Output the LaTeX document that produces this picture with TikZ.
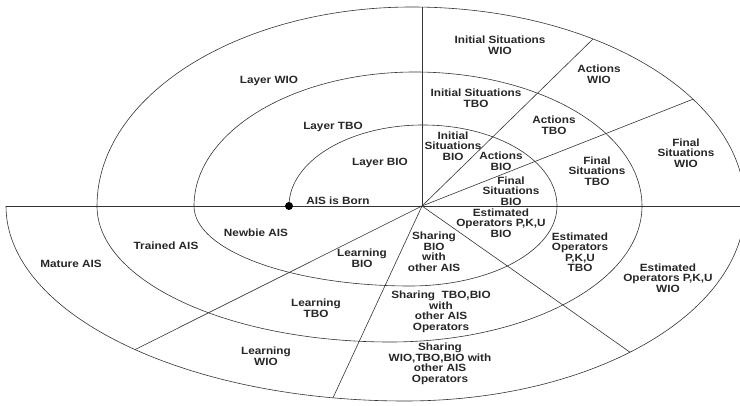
\documentclass[tikz,border=0pt]{standalone}
\usepackage{fontspec}
\newfontfamily\lblfont[FakeStretch=1.12]{Liberation Sans}
\begin{document}
\begin{tikzpicture}[x=1pt,y=1pt,
  ln/.style={line width=0.6pt, draw=black!80},
  lbl/.style={font=\lblfont\bfseries\fontsize{10.5}{10.5}\selectfont, align=center, inner sep=0pt, text=black!85}]
\useasboundingbox (0,0) rectangle (740,405);
\clip (0,0) rectangle (740,405);
% named points
\coordinate (C) at (422,199);
\coordinate (hl) at (6,199);
\coordinate (hr) at (745,199);
\coordinate (e1) at (422,398);
\coordinate (e2) at (593,366);
\coordinate (e3) at (693,305.8);
\coordinate (e4) at (630,52.8);
\coordinate (e5) at (333,7.2);
\coordinate (e6) at (135,55.4);
\coordinate (born) at (289,199);
% spiral
\draw[ln] (born) arc[start angle=180,end angle=0,x radius=134,y radius=81]
  arc[start angle=0,end angle=-90,x radius=147,y radius=80]
  arc[start angle=-90,end angle=-180,x radius=216,y radius=80]
  arc[start angle=180,end angle=90,x radius=221,y radius=134]
  arc[start angle=90,end angle=0,x radius=227,y radius=134]
  arc[start angle=0,end angle=-90,x radius=252,y radius=136]
  arc[start angle=-90,end angle=-180,x radius=293,y radius=136]
  arc[start angle=180,end angle=90,x radius=315,y radius=199]
  arc[start angle=90,end angle=0,x radius=333,y radius=199]
  arc[start angle=0,end angle=-90,x radius=340,y radius=195]
  arc[start angle=-90,end angle=-180,x radius=399,y radius=195];
% straight lines
\draw[ln] (hl) -- (hr);
\draw[ln] (C) -- (e1);
\draw[ln] (C) -- (e2);
\draw[ln] (C) -- (e3);
\draw[ln] (C) -- (e4);
\draw[ln] (C) -- (e5);
\draw[ln] (C) -- (e6);
\fill[black] (born) circle (4);
% labels
\node[lbl] (lw) at (269,324) {Layer WIO};
\node[lbl] (lt) at (333,278) {Layer TBO};
\node[lbl] (lb) at (380,242) {Layer BIO};
\node[lbl] (ab) at (338,204) {AIS is Born};
\node[lbl] (isw) at (500,360) {Initial Situations\\WIO};
\node[lbl] (acw) at (599,331) {Actions\\WIO};
\node[lbl] (ist) at (476,307) {Initial Situations\\TBO};
\node[lbl] (act) at (554,280) {Actions\\TBO};
\node[lbl] (isb) at (453,259) {Initial\\Situations\\BIO};
\node[lbl] (acb) at (501,244) {Actions\\BIO};
\node[lbl] (fsb) at (511,214) {Final\\Situations\\BIO};
\node[lbl] (fst) at (597,234) {Final\\Situations\\TBO};
\node[lbl] (fsw) at (686,252) {Final\\Situations\\WIO};
\node[lbl] (eob) at (501,182) {Estimated\\Operators P,K,U\\BIO};
\node[lbl] (eot) at (580,153) {Estimated\\Operators\\P,K,U\\TBO};
\node[lbl] (eow) at (668,127) {Estimated\\Operators P,K,U\\WIO};
\node[lbl] (shb) at (434,153.5) {Sharing\\BIO\\with\\other AIS};
\node[lbl] (sht) at (441,93) {Sharing~ TBO,BIO\\with\\other AIS\\Operators};
\node[lbl] (shw) at (440,41) {Sharing\\WIO,TBO,BIO with\\other AIS\\Operators};
\node[lbl] (leb) at (362,147) {Learning\\BIO};
\node[lbl] (let) at (316,97) {Learning\\TBO};
\node[lbl] (lew) at (266,49) {Learning\\WIO};
\node[lbl] (nb) at (256,172) {Newbie AIS};
\node[lbl] (tr) at (166,159) {Trained AIS};
\node[lbl] (ma) at (71,141) {Mature AIS};
\end{tikzpicture}
\end{document}
